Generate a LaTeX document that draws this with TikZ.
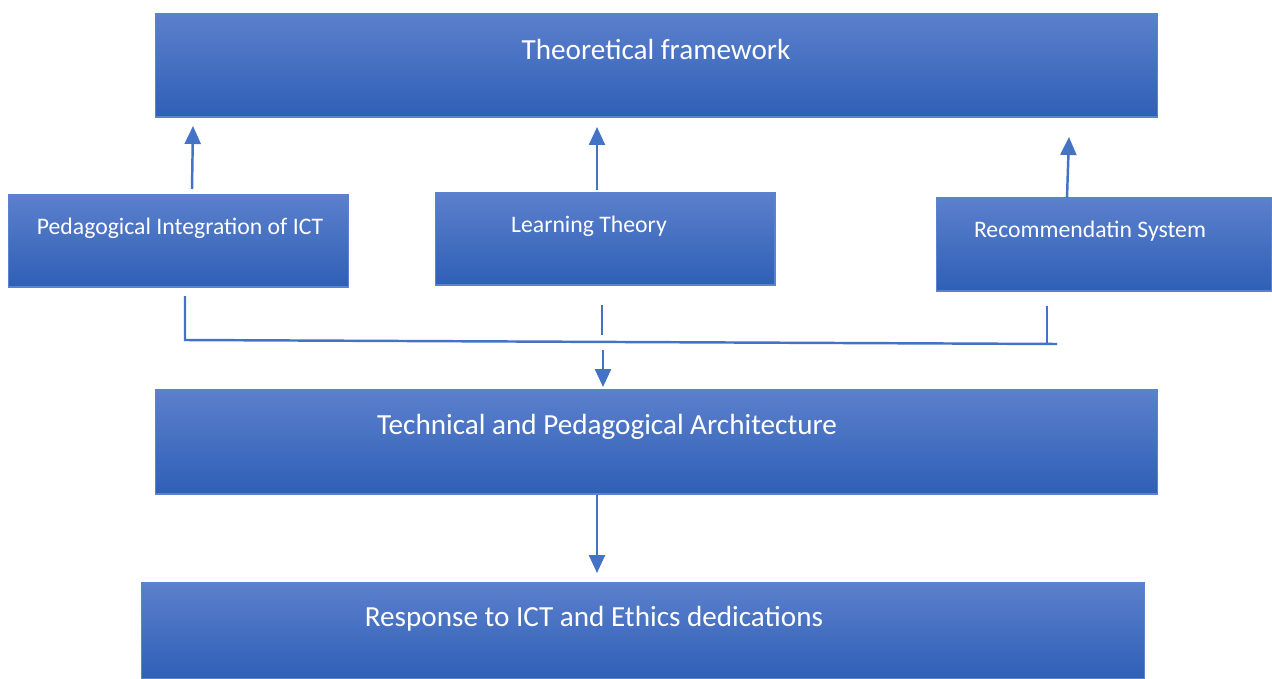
\documentclass[tikz,border=0pt]{standalone}
\usepackage{fontspec}
\setmainfont{Carlito}
\usepackage{xcolor}
\usetikzlibrary{arrows.meta, calc}
\definecolor{boxtop}{HTML}{5B80CC}
\definecolor{boxmid}{HTML}{4472C4}
\definecolor{boxbot}{HTML}{2F5FB6}
\definecolor{boxline}{HTML}{5A82CF}
\definecolor{linkblue}{HTML}{4472C4}
\tikzset{
  % Box and label styles
  bluebox/.style={rectangle, draw=boxline, line width=0.6pt, top color=boxtop, middle color=boxmid, bottom color=boxbot, inner sep=0pt},
  bigtext/.style={text=white, font=\fontsize{16.6}{19}\selectfont, inner sep=0pt},
  smalltext/.style={text=white, font=\fontsize{13.5}{16}\selectfont, inner sep=0pt},
  % Connector styles
  arrow/.style={-{Triangle[length=0.36cm, width=0.32cm]}, line width=1.4pt, draw=linkblue},
  link/.style={line width=1.4pt, draw=linkblue},
}
\begin{document}
\begin{tikzpicture}[x=0.02cm, y=-0.02cm]
    \useasboundingbox (0,0) rectangle (1272,679);

    % Theoretical framework
    \node[bluebox, minimum width=20.06cm, minimum height=2.06cm] (theory) at (656.5,65.5) {};
    \node[bigtext] (theorytext) at (656,49) {Theoretical framework};

    % Three pillars
    \node[bluebox, minimum width=6.82cm, minimum height=1.84cm] (pedict) at (178.5,241) {};
    \node[smalltext] (pedicttext) at (180,228) {Pedagogical Integration of ICT};

    \node[bluebox, minimum width=6.80cm, minimum height=1.84cm] (learn) at (605,239) {};
    \node[smalltext] (learntext) at (589,226) {Learning Theory};

    \node[bluebox, minimum width=6.72cm, minimum height=1.86cm] (recsys) at (1104,244.5) {};
    \node[smalltext] (recsystext) at (1090,231) {Recommendatin System};

    % Architecture
    \node[bluebox, minimum width=20.06cm, minimum height=2.08cm] (techarch) at (656.5,442) {};
    \node[bigtext] (techarchtext) at (607,427) {Technical and Pedagogical Architecture};

    % Response
    \node[bluebox, minimum width=20.08cm, minimum height=1.92cm] (response) at (643,631) {};
    \node[bigtext] (responsetext) at (594,619) {Response to ICT and Ethics dedications};

    % Arrow ends
    \coordinate (pedictup) at (192,189);
    \coordinate (pedicttip) at (193,126);
    \coordinate (learnup) at (597,190);
    \coordinate (learntip) at (597,127);
    \coordinate (recsysup) at (1067,198);
    \coordinate (recsystip) at (1069,137);
    \coordinate (pedictdown) at (185,296);
    \coordinate (learndown) at (602,305);
    \coordinate (recsysdown) at (1047,306);
    \coordinate (joinleft) at (185,340);
    \coordinate (joinright) at (1057,344);
    \coordinate (mergestart) at (603,350);
    \coordinate (mergetip) at (603,387);
    \coordinate (techtip) at (597,573);

% === Arrows ===
    \draw[arrow] (pedictup) -- (pedicttip);
    \draw[arrow] (learnup) -- (learntip);
    \draw[arrow] (recsysup) -- (recsystip);

    % Collecting bar under the pillars
    \draw[link] (pedictdown) -- (joinleft) -- (joinright);
    \draw[link] (learndown) -- (602,335);
    \draw[link] (recsysdown) -- (1047,344);
    \draw[arrow] (mergestart) -- (mergetip);

    % Architecture to response
    \draw[arrow] (techarch.south -| techtip) -- (techtip);
\end{tikzpicture}
\end{document}
